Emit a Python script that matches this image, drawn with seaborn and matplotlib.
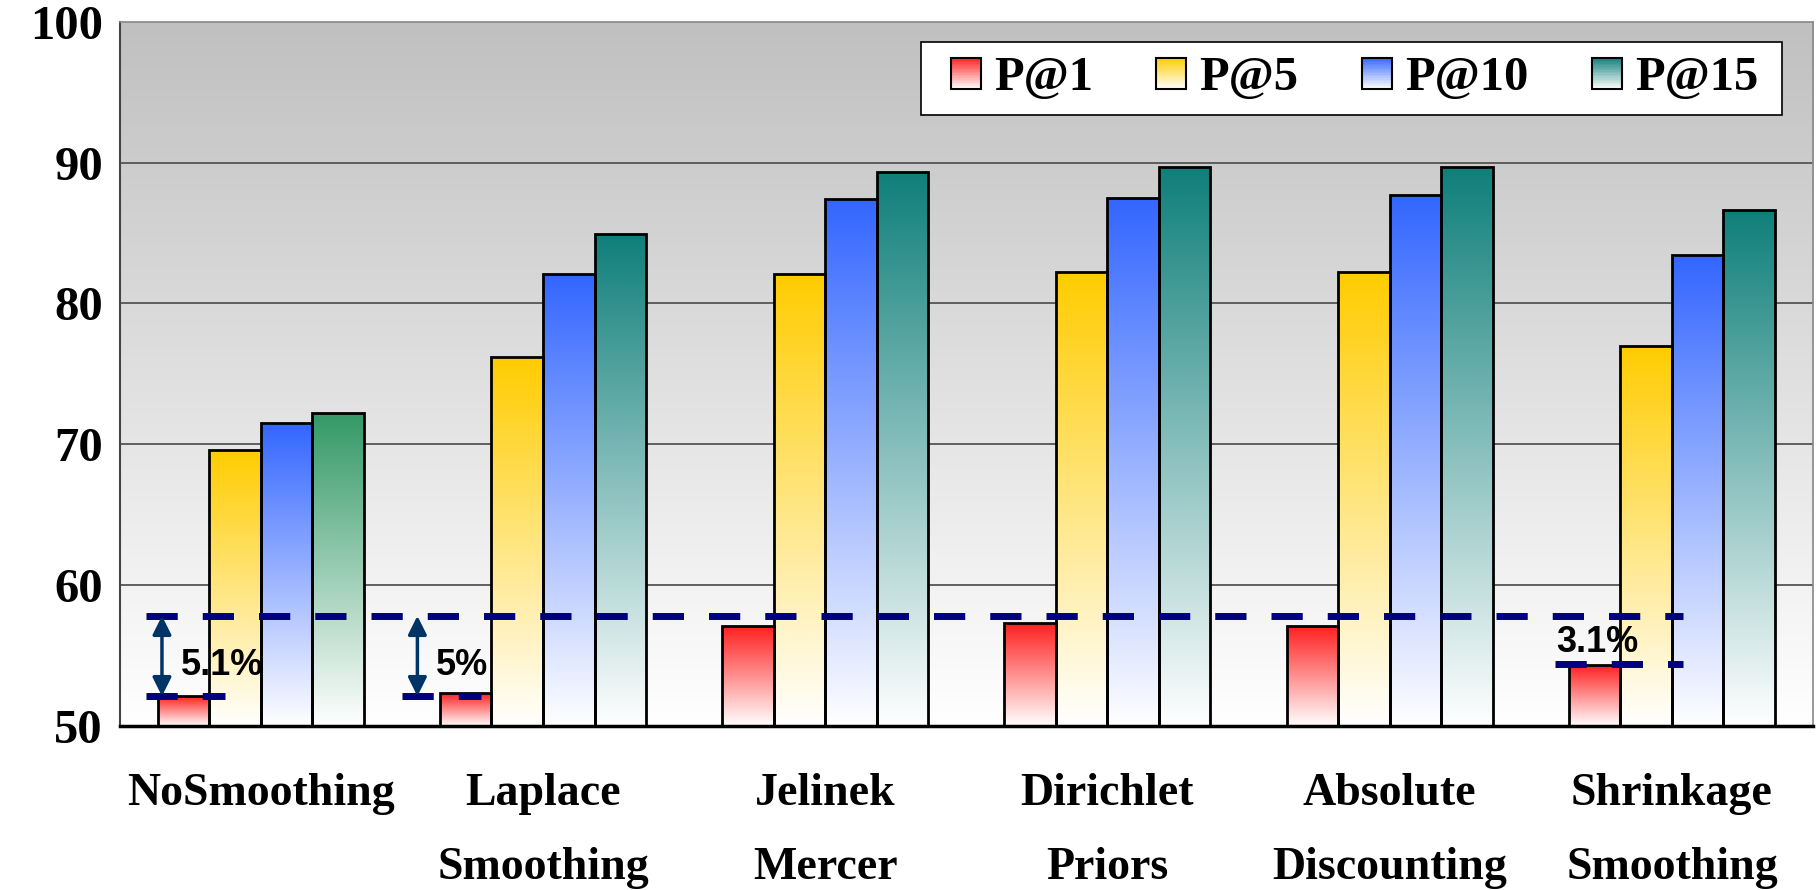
import numpy as np
import pandas as pd
import matplotlib
matplotlib.use("Agg")
import matplotlib.pyplot as plt
import seaborn as sns
from matplotlib.patches import Patch, Rectangle
from matplotlib.legend_handler import HandlerBase
from matplotlib.colors import to_rgb

# data
methods = ["NoSmoothing", "Laplace\nSmoothing", "Jelinek\nMercer",
           "Dirichlet\nPriors", "Absolute\nDiscounting", "Shrinkage\nSmoothing"]
metrics = ["P@1", "P@5", "P@10", "P@15"]
p_at_1 = [52.1, 52.3, 57.1, 57.3, 57.1, 54.3]
p_at_5 = [69.6, 76.2, 82.1, 82.2, 82.2, 77.0]
p_at_10 = [71.5, 82.1, 87.4, 87.5, 87.7, 83.4]
p_at_15 = [72.2, 84.9, 89.3, 89.7, 89.7, 86.6]

# annotation levels
best_level = 57.8
gap_levels = [52.1, 52.1, 54.4]
gap_labels = ["5.1%", "5%", "3.1%"]

colors = ["#ff2020", "#ffcc00", "#3366ff", "#0f7f7a"]
first_p15_color = "#339966"

df = pd.DataFrame({
    "method": np.repeat(methods, 4),
    "metric": metrics * len(methods),
    "score": np.ravel(np.column_stack([p_at_1, p_at_5, p_at_10, p_at_15])),
})

sns.set_style("white")
plt.rcParams["font.family"] = ["Liberation Serif", "DejaVu Serif"]
plt.rcParams["font.weight"] = "bold"
plt.rcParams["text.color"] = "black"
plt.rcParams["xtick.color"] = "black"
plt.rcParams["ytick.color"] = "black"

fig = plt.figure(figsize=(18.18, 8.9), dpi=100)
ax = fig.add_axes([0.0658, 0.1846, 0.9315, 0.791])

sns.barplot(data=df, x="method", y="score", hue="metric", hue_order=metrics,
            palette=colors, width=0.73, edgecolor="black", linewidth=2,
            legend=False, ax=ax, zorder=2)

ax.set_xlim(-0.5, 5.5)
ax.set_ylim(50, 100)

# background gradient: white at the bottom -> grey at the top
t_bg = np.linspace(0.0, 1.0, 256)[:, None, None]
bg_rgb = np.ones((256, 1, 3)) * (1 - t_bg * (1 - 192 / 255))
ax.imshow(bg_rgb, extent=[-0.5, 5.5, 50, 100], aspect="auto",
          origin="lower", zorder=0)

# gradient fill inside each bar (colour at top -> white at bottom)
for k, cont in enumerate(ax.containers):
    for j, bar in enumerate(cont.patches):
        c = np.array(to_rgb(colors[k]))
        if k == 3 and j == 0:
            c = np.array(to_rgb(first_p15_color))
        t = np.linspace(0, 1, 256)[:, None, None]
        img = (1 - t) * np.ones(3) + t * c
        x0 = bar.get_x()
        w = bar.get_width()
        top = bar.get_height()
        im = ax.imshow(img, extent=[x0, x0 + w, 50, top], aspect="auto",
                       origin="lower", zorder=1.9)
        im.set_clip_path(bar)
        bar.set_facecolor("none")

ax.set_xlim(-0.5, 5.5)
ax.set_ylim(50, 100)

# grid and ticks
ax.set_yticks([50, 60, 70, 80, 90, 100])
for yv in [60, 70, 80, 90]:
    ax.axhline(yv, color="#555555", lw=1.3, zorder=0.5)
ax.set_xticks(range(len(methods)))
ax.set_xticks(np.arange(0.5, 5.0, 1.0), minor=True)
ax.tick_params(axis="x", which="major", length=0, pad=34, labelsize=33)
ax.tick_params(axis="x", which="minor", direction="in", length=11,
               width=1.5, color="#777777")
ax.tick_params(axis="y", direction="in", length=11, width=2,
               color="#444444", pad=12, labelsize=35)
for lab in ax.get_xticklabels():
    lab.set_linespacing(2.0)
    lab.set_fontweight("bold")
for lab in ax.get_yticklabels():
    lab.set_fontweight("bold")
ax.set_xlabel("")
ax.set_ylabel("")

for side, col, lw in [("left", "#444444", 1.5), ("bottom", "black", 2.5),
                      ("top", "#888888", 1.2), ("right", "#888888", 1.2)]:
    ax.spines[side].set_visible(True)
    ax.spines[side].set_color(col)
    ax.spines[side].set_linewidth(lw)

# dashed reference lines
navy = "#000080"
dash = dict(color=navy, lw=5, dashes=(4.5, 3.6), zorder=4,
            solid_capstyle="butt", dash_capstyle="butt")
ax.plot([-0.406, 5.04], [best_level, best_level], **dash)
ax.plot([-0.406, -0.126], [gap_levels[0]] * 2, **dash)
ax.plot([0.502, 0.782], [gap_levels[1]] * 2, **dash)
ax.plot([4.586, 5.04], [gap_levels[2]] * 2, **dash)

# arrows and percentage gaps
for xa, lv in [(-0.35, gap_levels[0]), (0.555, gap_levels[1])]:
    ax.annotate("", xy=(xa, lv), xytext=(xa, best_level),
                arrowprops=dict(arrowstyle="<|-|>", color="#003366", lw=2.5,
                                mutation_scale=28, shrinkA=0, shrinkB=0),
                zorder=5)
txt = dict(fontsize=26, fontweight="bold", family="Liberation Sans",
           va="center", ha="left", zorder=6, color="black")
ax.text(-0.282, 54.3, gap_labels[0], **txt)
ax.text(0.619, 54.3, gap_labels[1], **txt)
ax.text(4.59, 55.9, gap_labels[2], **txt)


class GradientHandler(HandlerBase):
    def create_artists(self, legend, orig_handle, xdescent, ydescent,
                       width, height, fontsize, trans):
        c = np.array(to_rgb(orig_handle.get_facecolor()))
        n = 20
        arts = []
        for i in range(n):
            t = (i + 0.5) / n
            col = (1 - t) * np.ones(3) + t * c
            arts.append(Rectangle((-xdescent, -ydescent + height * i / n),
                                  width, height / n + 0.3, facecolor=col,
                                  edgecolor="none", transform=trans))
        arts.append(Rectangle((-xdescent, -ydescent), width, height,
                              facecolor="none", edgecolor="black", lw=1.5,
                              transform=trans))
        return arts


# legend box drawn separately so the entries can sit centred inside it
ax.add_patch(Rectangle((0.4735, 0.8679), 0.5082, 0.1037,
                       transform=ax.transAxes, facecolor="white",
                       edgecolor="black", lw=1.2, zorder=9))
handles = [Patch(facecolor=c) for c in colors]
leg = ax.legend(handles, metrics, ncol=4, loc="center",
                bbox_to_anchor=(0.7292, 0.9195),
                handler_map={Patch: GradientHandler()},
                prop=dict(family="Liberation Serif", weight="bold", size=35),
                handlelength=0.62, handleheight=0.62, handletextpad=0.27,
                columnspacing=1.3, borderpad=0, borderaxespad=0,
                frameon=False)
leg.set_zorder(10)

fig.savefig("out.png", dpi=100)
